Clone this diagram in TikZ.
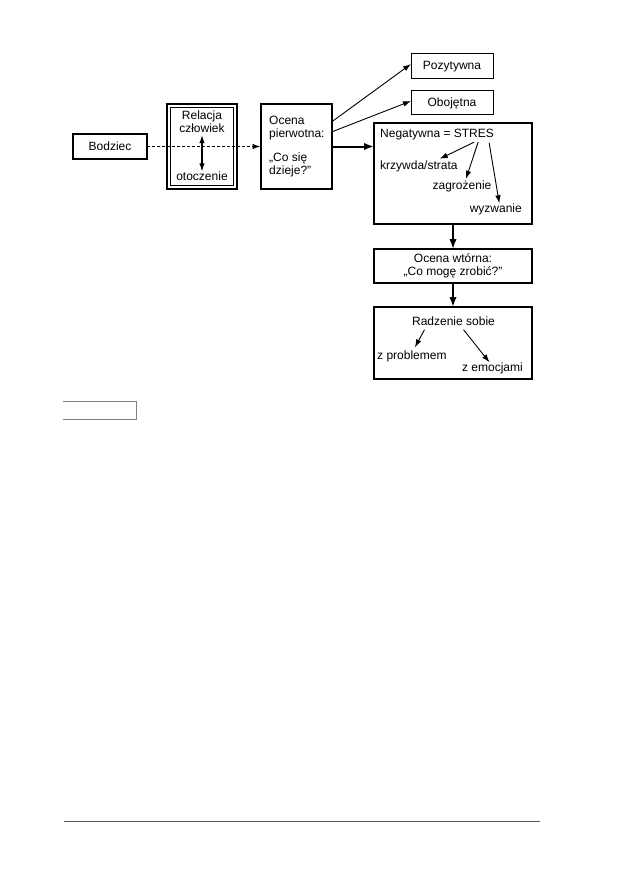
\documentclass[tikz,border=0pt]{standalone}
\usepackage{fontspec}
\setmainfont{Liberation Sans}
\usetikzlibrary{arrows.meta}

\begin{document}
\begin{tikzpicture}[>={Latex[length=8pt,width=5.5pt]}, x=1pt, y=-1pt,
  every node/.style={font=\fontsize{12}{13}\selectfont},
  box/.style={draw, inner sep=0pt, outer sep=0pt, line width=1.2pt},
  lbl/.style={inner sep=0pt, text height=8.5pt, text depth=2.5pt},
  thinarr/.style={->, line width=0.9pt},
  bigarr/.style={-{Latex[length=10pt,width=7.5pt]}, line width=2pt}]
  \useasboundingbox (0,0) rectangle (616,872);

  % stimulus and relation
  \node[box, minimum width=74pt, minimum height=25pt] (bodziec) at (110,146.5) {Bodziec};
  \node[box, line width=2pt, minimum width=70pt, minimum height=85pt] (relacja) at (202,146.5) {};
  \draw[line width=0.8pt] ([shift={(3.5,3.5)}]relacja.north west) rectangle ([shift={(-3.5,-3.5)}]relacja.south east);
  \node[lbl] (rel1) at (202,117) {Relacja};
  \node[lbl] (rel2) at (202,129.5) {człowiek};
  \node[lbl] (rel3) at (202,177) {otoczenie};
  \draw[<->, line width=1.1pt] (rel2.south) -- (rel3.north);

  % primary appraisal
  \node[box, line width=2pt, minimum width=71pt, minimum height=85pt] (ocena) at (296,146.5) {};
  \node[align=left, anchor=west, inner sep=0pt] (ocenatxt) at (269,146.5) {Ocena\\pierwotna:\\[11pt]„Co się\\dzieje?”};
  \draw[->, line width=1pt, dash pattern=on 3pt off 2pt] (bodziec.east) -- (ocena.west);

  \node[box, line width=1pt, minimum width=82pt, minimum height=25pt] (poz) at (452,66.5) {Pozytywna};
  \node[box, line width=1pt, minimum width=82pt, minimum height=24pt] (oboj) at (452,103) {Obojętna};
  \draw[thinarr] ([yshift=24.5pt]ocena.east) -- ([yshift=2.5pt]poz.west);
  \draw[thinarr] ([yshift=14.5pt]ocena.east) -- ([yshift=2pt]oboj.west);

  % negative = stress
  \node[box, line width=2pt, minimum width=158pt, minimum height=101pt] (neg) at (453,173.5) {};
  \draw[bigarr] (ocena.east) -- (ocena.east -| neg.west);
  \node[lbl, anchor=west] (stres) at (380,134) {Negatywna = STRES};
  \node[lbl, anchor=west] (krzywda) at (380,166) {krzywda/strata};
  \node[lbl] (zagr) at (462,186) {zagrożenie};
  \node[lbl, anchor=east] (wyzw) at (522,209) {wyzwanie};
  \draw[thinarr] ([shift={(-20,2.5)}]stres.south east) -- ([shift={(-18,-1.5)}]krzywda.north east);
  \draw[thinarr] ([shift={(-16,2.5)}]stres.south east) -- ([shift={(4,-1.5)}]zagr.north);
  \draw[thinarr] ([shift={(-5,3)}]stres.south east) -- ([shift={(3.5,0)}]wyzw.north);

  % secondary appraisal and coping
  \node[box, line width=2pt, minimum width=158pt, minimum height=34pt, align=center] (wtorna) at (453,266) {Ocena wtórna:\\„Co mogę zrobić?”};
  \node[box, minimum width=158pt, minimum height=72pt] (radz) at (453,343) {};
  \draw[bigarr] (neg.south) -- (wtorna.north);
  \draw[bigarr] (wtorna.south) -- (radz.north);
  \node[lbl] (radztxt) at (453.5,322) {Radzenie sobie};
  \node[lbl, anchor=west] (zprob) at (377,356) {z problemem};
  \node[lbl, anchor=east] (zemoc) at (523,368) {z emocjami};
  \draw[thinarr] ([shift={(-29,2)}]radztxt.south) -- ([shift={(3,-3)}]zprob.north);
  \draw[thinarr] ([shift={(10,2)}]radztxt.south) -- ([shift={(-3,0)}]zemoc.north);

  % page marks
  \draw[gray, line width=1pt] (63,401) -- (136,401) -- (136,419) -- (63,419);
  \draw[black!65, line width=0.9pt] (64,821) -- (540,821);
\end{tikzpicture}
\end{document}
